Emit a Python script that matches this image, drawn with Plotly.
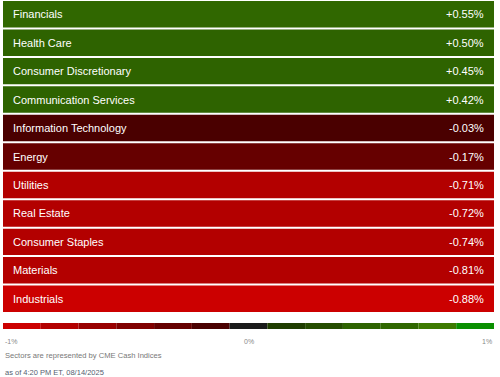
import math
import plotly.graph_objects as go

sectors = ["Financials", "Health Care", "Consumer Discretionary", "Communication Services",
           "Information Technology", "Energy", "Utilities", "Real Estate",
           "Consumer Staples", "Materials", "Industrials"]
changes = [0.55, 0.50, 0.45, 0.42, -0.03, -0.17, -0.71, -0.72, -0.74, -0.81, -0.88]
scale_ticks = [-1, 0, 1]
scale_labels = ["-1%", "0%", "1%"]
footnote = "Sectors are represented by CME Cash Indices"
timestamp = "as of 4:20 PM ET, 08/14/2025"

reds = ["#4a0000", "#660000", "#800000", "#990000", "#b30000", "#cc0000"]
greens = ["#1f3d00", "#264d00", "#2e6300", "#306700", "#3d7a00", "#0a8f00"]
zero_col = "#1a1a1a"
levels = 6


def color_for(v):
    lvl = min(levels, math.ceil(abs(v) * levels))
    if lvl == 0:
        return zero_col
    return (greens if v > 0 else reds)[lvl - 1]


W, H = 500, 377
top_px, bot_px = 0, 313
left_px, right_px = 3, 494
bar_top, bar_bot = 323, 329

fig = go.Figure()
fig.add_trace(go.Bar(
    y=sectors, x=[1] * len(sectors), orientation="h", width=0.93,
    marker=dict(color=[color_for(v) for v in changes], line=dict(width=0)),
    hoverinfo="skip", xaxis="x", yaxis="y"))

# scale bar
seg_edges = [-1 + i * 2 / (2 * levels + 1) for i in range(2 * levels + 2)]
seg_cols = reds[::-1] + [zero_col] + greens
fig.add_trace(go.Bar(
    x=[(seg_edges[i] + seg_edges[i + 1]) / 2 for i in range(len(seg_cols))],
    y=[1] * len(seg_cols), width=2 / (2 * levels + 1),
    marker=dict(color=seg_cols, line=dict(width=0)),
    hoverinfo="skip", xaxis="x2", yaxis="y2"))

ann = []
for s, v in zip(sectors, changes):
    ann.append(dict(x=0, y=s, xref="x", yref="y", text=s, showarrow=False,
                    xanchor="left", xshift=8, font=dict(color="white", size=11)))
    ann.append(dict(x=1, y=s, xref="x", yref="y", text=f"{v:+.2f}%", showarrow=False,
                    xanchor="right", xshift=-8, font=dict(color="white", size=11)))
anchors = ["left", "center", "right"]
for t, lab, a in zip(scale_ticks, scale_labels, anchors):
    ann.append(dict(x=t, y=1 - 341 / H, xref="x2", yref="paper", text=lab, showarrow=False,
                    xanchor=a, yanchor="middle", font=dict(color="#888888", size=7)))
ann.append(dict(x=left_px / W, y=1 - 355 / H, xref="paper", yref="paper", text=footnote,
                showarrow=False, xanchor="left", yanchor="middle",
                font=dict(color="#777777", size=7.6)))
ann.append(dict(x=left_px / W, y=1 - 372.5 / H, xref="paper", yref="paper", text=timestamp,
                showarrow=False, xanchor="left", yanchor="middle",
                font=dict(color="#556070", size=7.5)))

fig.update_layout(
    width=W, height=H, margin=dict(l=0, r=0, t=0, b=0),
    paper_bgcolor="white", plot_bgcolor="white", showlegend=False,
    font=dict(family="Liberation Sans, Arial, sans-serif"),
    xaxis=dict(domain=[left_px / W, right_px / W], range=[0, 1], visible=False, fixedrange=True),
    yaxis=dict(domain=[1 - bot_px / H, 1 - top_px / H], categoryorder="array",
               categoryarray=sectors, autorange="reversed", visible=False, fixedrange=True),
    xaxis2=dict(domain=[left_px / W, right_px / W], range=[-1, 1], visible=False,
                anchor="y2", fixedrange=True),
    yaxis2=dict(domain=[1 - bar_bot / H, 1 - bar_top / H], range=[0, 1], visible=False,
                anchor="x2", fixedrange=True),
    annotations=ann,
)
fig.write_html("out.html")
